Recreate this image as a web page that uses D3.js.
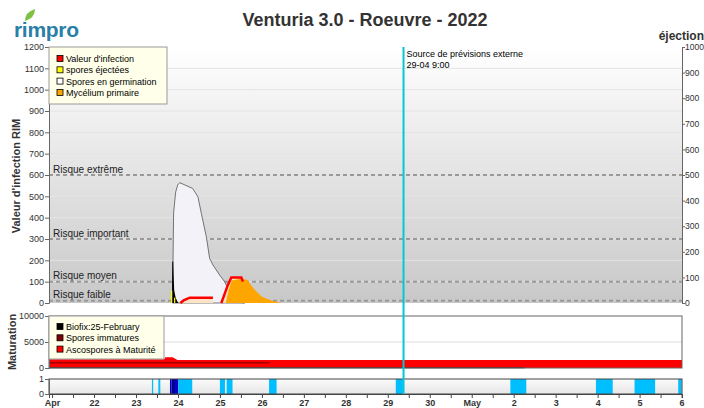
<!DOCTYPE html>
<html>
<head>
<meta charset="utf-8">
<title>Venturia 3.0 - Roeuvre - 2022</title>
<script src="https://d3js.org/d3.v7.min.js"></script>
<style>
  body { margin: 0; background: #fff; }
  svg { font-family: Arial, "Liberation Sans", sans-serif; }
</style>
</head>
<body>
<div id="chart"></div>
<script>
  var parse = d3.timeParse("%Y-%m-%d %H:%M");

  // RIM infection value (left axis), null = gap
  var infection = [
    ["2022-04-24 01:22", 0], ["2022-04-24 03:15", 12], ["2022-04-24 06:42", 25], ["2022-04-24 20:00", 25],
    ["2022-04-24 22:00", null],
    ["2022-04-25 00:48", 0], ["2022-04-25 04:34", 85], ["2022-04-25 06:30", 120], ["2022-04-25 12:14", 120],
    ["2022-04-25 13:10", 100]
  ];
  // spores en germination
  var germination = [
    ["2022-04-23 20:48", 0], ["2022-04-23 21:07", 155], ["2022-04-23 21:31", 422], ["2022-04-23 22:41", 520],
    ["2022-04-23 23:50", 553], ["2022-04-24 01:00", 564], ["2022-04-24 08:24", 537], ["2022-04-24 11:25", 498],
    ["2022-04-24 13:22", 420], ["2022-04-24 16:13", 311], ["2022-04-24 18:07", 209], ["2022-04-24 20:00", 178],
    ["2022-04-24 23:50", 131], ["2022-04-25 02:41", 100], ["2022-04-25 04:34", 69], ["2022-04-25 06:30", 30],
    ["2022-04-25 09:22", 6], ["2022-04-25 14:07", 0]
  ];
  // mycélium primaire
  var mycelium = [
    ["2022-04-25 03:16", 0], ["2022-04-25 04:58", 60], ["2022-04-25 06:42", 105], ["2022-04-25 12:24", 115],
    ["2022-04-25 15:50", 108], ["2022-04-25 18:07", 80], ["2022-04-25 20:59", 53], ["2022-04-25 23:50", 30],
    ["2022-04-26 02:41", 20], ["2022-04-26 05:32", 12], ["2022-04-26 08:24", 5], ["2022-04-26 11:15", 0]
  ];
  // ejection (black area) and spores éjectées (yellow spikes)
  var ejection = [
    ["2022-04-23 20:34", 0], ["2022-04-23 20:44", 195], ["2022-04-23 21:16", 195], ["2022-04-23 21:50", 60],
    ["2022-04-23 22:41", 25], ["2022-04-23 23:50", 5], ["2022-04-24 00:24", 0]
  ];
  var sporesEjected = [["2022-04-23 20:24", 58], ["2022-04-23 22:07", 25]];

  // maturation panel
  var mature = [
    ["2022-04-20 22:15", 1680], ["2022-04-23 16:00", 1680], ["2022-04-23 16:48", 2070], ["2022-04-23 20:53", 2070],
    ["2022-04-23 23:45", 1550], ["2022-05-06 00:15", 1550]
  ];
  var immature = [["2022-04-20 22:15", 1000], ["2022-04-26 04:30", 1000]];
  var biofix = [["2022-04-20 22:15", 40], ["2022-05-02 06:14", 40]];

  // leaf wetness periods [start, end, level]
  var wetness = [
    ["2022-04-23 09:07", "2022-04-23 09:50", 1], ["2022-04-23 12:47", "2022-04-23 13:55", 1],
    ["2022-04-23 19:26", "2022-04-23 20:24", 2], ["2022-04-23 20:24", "2022-04-23 22:19", 3],
    ["2022-04-23 22:19", "2022-04-24 00:14", 2], ["2022-04-24 00:14", "2022-04-24 08:10", 1],
    ["2022-04-25 00:00", "2022-04-25 02:53", 1], ["2022-04-25 03:50", "2022-04-25 07:12", 1],
    ["2022-04-26 04:05", "2022-04-26 08:24", 1], ["2022-04-29 04:34", "2022-04-29 08:38", 1],
    ["2022-05-01 22:05", "2022-05-02 07:12", 1], ["2022-05-03 23:02", "2022-05-04 08:38", 1],
    ["2022-05-04 21:07", "2022-05-05 08:53", 1], ["2022-05-05 22:05", "2022-05-06 00:00", 1]
  ];
  var wetColors = { 1: "#00bfff", 2: "#0000cd", 3: "#00008b" };

  var riskLevels = [600, 300, 100, 10];
  var riskLabels = ["Risque extrême", "Risque important", "Risque moyen", "Risque faible"];
  var forecastTime = "2022-04-29 09:00";
  var xTickLabels = ["Apr", "22", "23", "24", "25", "26", "27", "28", "29", "30", "May", "2", "3", "4", "5", "6"];

  var width = 704, height = 408;
  var left = 49, right = 682;

  var svg = d3.select("#chart").append("svg")
    .attr("width", width).attr("height", height);

  var defs = svg.append("defs");
  var g1 = defs.append("linearGradient").attr("id", "bgMain").attr("x1", 0).attr("y1", 0).attr("x2", 0).attr("y2", 1);
  g1.append("stop").attr("offset", "0%").attr("stop-color", "#ffffff");
  g1.append("stop").attr("offset", "100%").attr("stop-color", "#c8c8c8");
  var g2 = defs.append("linearGradient").attr("id", "bgStrip").attr("x1", 0).attr("y1", 0).attr("x2", 0).attr("y2", 1);
  g2.append("stop").attr("offset", "0%").attr("stop-color", "#fbfbfb");
  g2.append("stop").attr("offset", "100%").attr("stop-color", "#e6e6e6");

  var x = d3.scaleTime()
    .domain([parse("2022-04-20 22:15"), parse("2022-05-06 00:15")])
    .range([left, right]);
  var y = d3.scaleLinear().domain([0, 1200]).range([303, 47]);
  var yRight = d3.scaleLinear().domain([0, 1000]).range([303, 47]);
  var yMat = d3.scaleLinear().domain([0, 10000]).range([368, 316]);
  var yWet = d3.scaleLinear().domain([0, 1]).range([394, 379]);
  var fmt = d3.format("d");

  // ---- title and logo
  svg.append("text").attr("x", 365).attr("y", 26).attr("text-anchor", "middle")
    .style("font-size", "18px").style("font-weight", "bold").style("fill", "#333")
    .text("Venturia 3.0 - Roeuvre - 2022");
  svg.append("path").attr("d", "M25 21 Q25 12 35 9 Q35 18 25 21 Z").attr("fill", "#7dc242");
  svg.append("text").attr("x", 14).attr("y", 37)
    .style("font-size", "21px").style("font-weight", "bold").style("fill", "#2a7fa6")
    .style("letter-spacing", "-0.3px")
    .text("rimpro");
  svg.append("text").attr("x", 704).attr("y", 40).attr("text-anchor", "end")
    .style("font-size", "12px").style("font-weight", "bold").style("fill", "#333")
    .text("éjection");

  // ---- main panel
  svg.append("rect").attr("x", left).attr("y", 47).attr("width", right - left).attr("height", 256)
    .attr("fill", "url(#bgMain)");

  svg.append("g").selectAll("line")
    .data(d3.range(100, 1200, 100))
    .enter().append("line")
    .attr("x1", left).attr("x2", right)
    .attr("y1", function(d) { return y(d); }).attr("y2", function(d) { return y(d); })
    .attr("stroke", "#e4e4e4").attr("stroke-width", 1);

  svg.append("g").selectAll("line")
    .data(riskLevels)
    .enter().append("line")
    .attr("x1", left).attr("x2", right)
    .attr("y1", function(d) { return y(d); }).attr("y2", function(d) { return y(d); })
    .attr("stroke", "#999").attr("stroke-width", 2).attr("stroke-dasharray", "4,3");

  svg.append("g").selectAll("text")
    .data(riskLevels)
    .enter().append("text")
    .attr("x", 53).attr("y", function(d) { return y(d) - 2.5; })
    .style("font-size", "10px").style("fill", "#222")
    .text(function(d, i) { return riskLabels[i]; });

  var area = d3.area()
    .defined(function(d) { return d[1] !== null; })
    .x(function(d) { return x(parse(d[0])); })
    .y0(y(0))
    .y1(function(d) { return y(d[1]); });
  var line = d3.line()
    .defined(function(d) { return d[1] !== null; })
    .x(function(d) { return x(parse(d[0])); })
    .y(function(d) { return y(d[1]); });

  svg.append("path").datum(germination).attr("d", area)
    .attr("fill", "#f2f2f8").attr("stroke", "#555").attr("stroke-width", 0.8);

  svg.append("path").datum(ejection).attr("d", area).attr("fill", "#000");
  svg.append("g").selectAll("rect")
    .data(sporesEjected)
    .enter().append("rect")
    .attr("x", function(d) { return x(parse(d[0])) - 0.6; })
    .attr("y", function(d) { return y(d[1]); })
    .attr("width", 1.2)
    .attr("height", function(d) { return y(0) - y(d[1]); })
    .attr("fill", "#ffff00");

  svg.append("path").datum(infection).attr("d", area).attr("fill", "#fde3c6");
  svg.append("path").datum(mycelium).attr("d", area).attr("fill", "#ffa500");
  svg.append("path").datum(infection).attr("d", line)
    .attr("fill", "none").attr("stroke", "#ff0000").attr("stroke-width", 2.5);

  // axes main
  var axL = svg.append("g").attr("transform", "translate(" + left + ",0)")
    .call(d3.axisLeft(y).tickValues(d3.range(0, 1201, 100)).tickFormat(fmt).tickSize(4).tickPadding(1));
  var axR = svg.append("g").attr("transform", "translate(" + right + ",0)")
    .call(d3.axisRight(yRight).tickValues(d3.range(0, 1001, 100)).tickFormat(fmt).tickSize(3).tickPadding(0));
  [axL, axR].forEach(function(a) {
    a.selectAll("text").style("font-size", "9px").style("fill", "#333");
    a.selectAll("line, path").attr("stroke", "#666");
  });
  axR.selectAll("text").style("font-size", "8.6px");

  svg.append("text").attr("transform", "translate(20,176) rotate(-90)").attr("text-anchor", "middle")
    .style("font-size", "11px").style("font-weight", "bold").style("fill", "#333")
    .text("Valeur d'infection RIM");

  // main legend
  var leg = svg.append("g");
  leg.append("rect").attr("x", left).attr("y", 47).attr("width", 118).attr("height", 57)
    .attr("fill", "#ffffea").attr("stroke", "#999");
  var legItems = [["Valeur d'infection", "#ff0000"], ["spores éjectées", "#ffff00"],
                  ["Spores en germination", "#ffffff"], ["Mycélium primaire", "#ffa500"]];
  legItems.forEach(function(it, i) {
    var yy = 59 + i * 11.3;
    leg.append("rect").attr("x", 57).attr("y", yy - 3.5).attr("width", 6).attr("height", 6)
      .attr("fill", it[1]).attr("stroke", "#000").attr("stroke-width", 0.8);
    leg.append("text").attr("x", 66).attr("y", yy + 3).style("font-size", "9px").style("fill", "#000").text(it[0]);
  });

  // ---- maturation panel
  svg.append("rect").attr("x", left).attr("y", 316).attr("width", right - left).attr("height", 52)
    .attr("fill", "#fff");
  svg.append("line").attr("x1", left).attr("x2", right).attr("y1", yMat(5000)).attr("y2", yMat(5000))
    .attr("stroke", "#ddd");

  var matArea = d3.area()
    .x(function(d) { return x(parse(d[0])); })
    .y0(yMat(0))
    .y1(function(d) { return yMat(d[1]); });
  var matLine = d3.line()
    .x(function(d) { return x(parse(d[0])); })
    .y(function(d) { return yMat(d[1]); });
  svg.append("path").datum(mature).attr("d", matArea).attr("fill", "#ff0000");
  svg.append("path").datum(immature).attr("d", matLine).attr("fill", "none")
    .attr("stroke", "#a00000").attr("stroke-width", 1.5);
  svg.append("path").datum(biofix).attr("d", matLine).attr("fill", "none")
    .attr("stroke", "#222").attr("stroke-width", 1);

  svg.append("rect").attr("x", left).attr("y", 316).attr("width", right - left).attr("height", 52)
    .attr("fill", "none").attr("stroke", "#666");

  var axM = svg.append("g").attr("transform", "translate(" + left + ",0)")
    .call(d3.axisLeft(yMat).tickValues([0, 5000, 10000]).tickFormat(fmt).tickSize(4).tickPadding(1));
  axM.selectAll("text").style("font-size", "9px").style("fill", "#333");
  axM.selectAll("line, path").attr("stroke", "#666");

  svg.append("text").attr("transform", "translate(16,342) rotate(-90)").attr("text-anchor", "middle")
    .style("font-size", "11px").style("font-weight", "bold").style("fill", "#333")
    .text("Maturation");

  var leg2 = svg.append("g");
  leg2.append("rect").attr("x", left).attr("y", 316).attr("width", 115).attr("height", 43)
    .attr("fill", "#ffffea").attr("stroke", "#999");
  var leg2Items = [["Biofix:25-February", "#000"], ["Spores immatures", "#800000"], ["Ascospores à Maturité", "#ff0000"]];
  leg2Items.forEach(function(it, i) {
    var yy = 327 + i * 11.3;
    leg2.append("rect").attr("x", 57).attr("y", yy - 3.5).attr("width", 6).attr("height", 6)
      .attr("fill", it[1]).attr("stroke", "#000").attr("stroke-width", 0.8);
    leg2.append("text").attr("x", 66).attr("y", yy + 3).style("font-size", "9px").style("fill", "#000").text(it[0]);
  });

  // ---- wetness strip
  svg.append("rect").attr("x", left).attr("y", 379).attr("width", right - left).attr("height", 15)
    .attr("fill", "url(#bgStrip)");
  svg.append("g").selectAll("rect")
    .data(wetness)
    .enter().append("rect")
    .attr("x", function(d) { return x(parse(d[0])); })
    .attr("y", yWet(1))
    .attr("width", function(d) { return x(parse(d[1])) - x(parse(d[0])); })
    .attr("height", yWet(0) - yWet(1))
    .attr("fill", function(d) { return wetColors[d[2]]; });
  svg.append("rect").attr("x", left).attr("y", 379).attr("width", right - left).attr("height", 15)
    .attr("fill", "none").attr("stroke", "#444");

  var axW = svg.append("g").attr("transform", "translate(" + left + ",0)")
    .call(d3.axisLeft(yWet).tickValues([0, 1]).tickFormat(fmt).tickSize(4).tickPadding(1));
  axW.selectAll("text").style("font-size", "9px").style("fill", "#333");
  axW.selectAll("line, path").attr("stroke", "#666");

  // x axis
  var dayTicks = x.ticks(d3.timeDay.every(1));
  var axX = svg.append("g").attr("transform", "translate(0,394)")
    .call(d3.axisBottom(x).ticks(d3.timeHour.every(12)).tickSize(4).tickPadding(2)
      .tickFormat(function(d) {
        if (d.getHours() !== 0) return "";
        var i = d3.timeDay.count(dayTicks[0], d);
        return xTickLabels[i] || "";
      }));
  axX.selectAll("text").style("font-size", "9px").style("font-weight", "bold").style("fill", "#333");
  axX.selectAll("line, path").attr("stroke", "#444");

  // forecast line
  var fx = x(parse(forecastTime));
  svg.append("line").attr("x1", fx).attr("x2", fx).attr("y1", 47).attr("y2", 394)
    .attr("stroke", "#00c8d6").attr("stroke-width", 2);
  svg.append("text").attr("x", fx + 3).attr("y", 57).style("font-size", "9px").style("fill", "#000")
    .text("Source de prévisions externe");
  svg.append("text").attr("x", fx + 3).attr("y", 68).style("font-size", "9px").style("fill", "#000")
    .text("29-04 9:00");
</script>
</body>
</html>
